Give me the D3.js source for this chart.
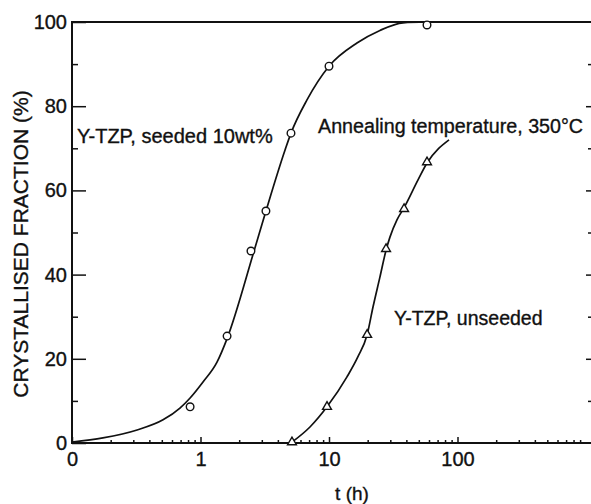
<!DOCTYPE html>
<html>
<head>
<meta charset="utf-8">
<script src="https://cdn.jsdelivr.net/npm/d3@7"></script>
<style>
  html, body { margin: 0; padding: 0; background: #fff; }
  svg { display: block; font-family: "Liberation Sans", Arial, Helvetica, sans-serif; }
</style>
</head>
<body>
<svg id="chart" width="591" height="504"></svg>
<script>
// ---- data ----
const xMajorTicks = [0.1, 1, 10, 100];
const xTickLabels = ["0", "1", "10", "100"];
const yMajorTicks = [0, 20, 40, 60, 80, 100];
const yMinorTicks = [10, 30, 50, 70, 90];

// measured points, Y-TZP seeded 10wt% (circles)
const seededT = [0.83, 1.61, 2.47, 3.23, 5.06, 10.0, 57.9];
const seededY = [8.6, 25.4, 45.6, 55.1, 73.6, 89.5, 99.3];
// drawn fit curve, seeded
const seededCurveT = [0.1, 0.174, 0.321, 0.511, 0.692, 0.83, 1.046, 1.344, 1.61, 2.61, 3.23, 4.55, 5.06, 6.74, 10, 16.5, 24.9, 37.7, 57.9];
const seededCurveY = [0.2, 1.2, 3.1, 5.5, 8.3, 10.7, 14.5, 19.2, 24.8, 45.6, 55.1, 69.6, 73.6, 81.5, 89.5, 95, 98, 99.8, 100];

// measured points, Y-TZP unseeded (triangles)
const unseededT = [5.15, 9.65, 19.8, 27.8, 38.4, 57.9];
const unseededY = [0.2, 8.6, 25.7, 46.1, 55.6, 66.7];
// drawn fit curve, unseeded
const unseededCurveT = [5.15, 7.11, 9.65, 13.8, 16.8, 19.8, 22.0, 24.9, 27.8, 29.8, 33.8, 38.4, 49.3, 57.9, 85.9];
const unseededCurveY = [0.2, 3.8, 8.6, 15.7, 20.5, 25.7, 32.3, 39.4, 45.8, 48.9, 53.0, 55.9, 62.5, 66.5, 72];

// ---- layout ----
const svg = d3.select("#chart");
const mLeft = 72, mRight = 586, mTop = 22, mBottom = 443, mEdge = 591;

const x = d3.scaleLog().domain([0.1, 1000]).range([mLeft, mRight]);
const y = d3.scaleLinear().domain([0, 100]).range([mBottom, mTop]);

const ink = "#111";

// minor x ticks (2..9 per decade)
const xMinor = [];
[0.1, 1, 10, 100].forEach(d => { for (let k = 2; k <= 9; k++) xMinor.push(d * k); });

const gxMinor = svg.append("g").attr("transform", `translate(0,${mBottom})`)
  .call(d3.axisBottom(x).tickValues(xMinor).tickSize(-3).tickFormat(""));
const gx = svg.append("g").attr("transform", `translate(0,${mBottom})`)
  .call(d3.axisBottom(x).tickValues(xMajorTicks).tickSize(-6).tickPadding(9)
    .tickFormat((d, i) => xTickLabels[i]));

const gyMinor = svg.append("g").attr("transform", `translate(${mLeft},0)`)
  .call(d3.axisLeft(y).tickValues(yMinorTicks).tickSize(-6).tickFormat(""));
const gy = svg.append("g").attr("transform", `translate(${mLeft},0)`)
  .call(d3.axisLeft(y).tickValues(yMajorTicks).tickSize(-14).tickPadding(5));

const gr = svg.append("g").attr("transform", `translate(${mEdge},0)`)
  .call(d3.axisRight(y).tickValues([10, 20, 30, 40, 50, 60, 70, 80, 90]).tickSize(-4).tickFormat(""));

[gxMinor, gx, gyMinor, gy, gr].forEach(g => {
  g.select(".domain").remove();
  g.selectAll("line").attr("stroke", ink).attr("stroke-width", 1.5);
  g.selectAll("text").attr("fill", ink).attr("font-size", 20)
    .attr("stroke", ink).attr("stroke-width", 0.35)
    .attr("font-family", '"Liberation Sans", Arial, Helvetica, sans-serif');
});
gr.selectAll(".tick line").attr("x2", d => ([20, 40, 60, 80].includes(d) ? -5 : -3));

// frame lines
svg.append("line").attr("x1", mLeft).attr("x2", mLeft).attr("y1", mTop).attr("y2", mBottom)
  .attr("stroke", ink).attr("stroke-width", 2);
svg.append("line").attr("x1", mLeft - 1).attr("x2", mEdge).attr("y1", mBottom).attr("y2", mBottom)
  .attr("stroke", ink).attr("stroke-width", 2);
svg.append("line").attr("x1", mLeft - 1).attr("x2", mEdge).attr("y1", mTop).attr("y2", mTop)
  .attr("stroke", ink).attr("stroke-width", 2);

// curves
const line = d3.line().x(d => x(d[0])).y(d => y(d[1])).curve(d3.curveMonotoneX);
svg.append("path").datum(d3.zip(seededCurveT, seededCurveY)).attr("d", line)
  .attr("fill", "none").attr("stroke", ink).attr("stroke-width", 1.7);
svg.append("path").datum(d3.zip(unseededCurveT, unseededCurveY)).attr("d", line)
  .attr("fill", "none").attr("stroke", ink).attr("stroke-width", 1.7);

// markers
svg.append("g").selectAll("circle").data(d3.zip(seededT, seededY)).join("circle")
  .attr("cx", d => x(d[0])).attr("cy", d => y(d[1])).attr("r", 3.8)
  .attr("fill", "#fff").attr("stroke", ink).attr("stroke-width", 1.4);
const tri = d3.symbol().type(d3.symbolTriangle).size(34);
svg.append("g").selectAll("path").data(d3.zip(unseededT, unseededY)).join("path")
  .attr("transform", d => `translate(${x(d[0])},${y(d[1])})`).attr("d", tri)
  .attr("fill", "#fff").attr("stroke", ink).attr("stroke-width", 1.4);

// annotations
const txt = (s, tx, ty, size, anchor) => svg.append("text").attr("x", tx).attr("y", ty)
  .attr("font-size", size).attr("text-anchor", anchor || "start").attr("fill", ink)
  .attr("stroke", ink).attr("stroke-width", 0.35).text(s);
txt("Y-TZP, seeded 10wt%", 77, 143, 20);
txt("Annealing temperature, 350°C", 318, 133, 19.7);
txt("Y-TZP, unseeded", 394, 325, 19.5);
txt("t (h)", 352, 500, 19, "middle");

svg.append("text").attr("transform", "translate(28,244) rotate(-90)")
  .attr("text-anchor", "middle").attr("font-size", 21).attr("fill", ink)
  .attr("stroke", ink).attr("stroke-width", 0.35)
  .text("CRYSTALLISED FRACTION (%)");
</script>
</body>
</html>
